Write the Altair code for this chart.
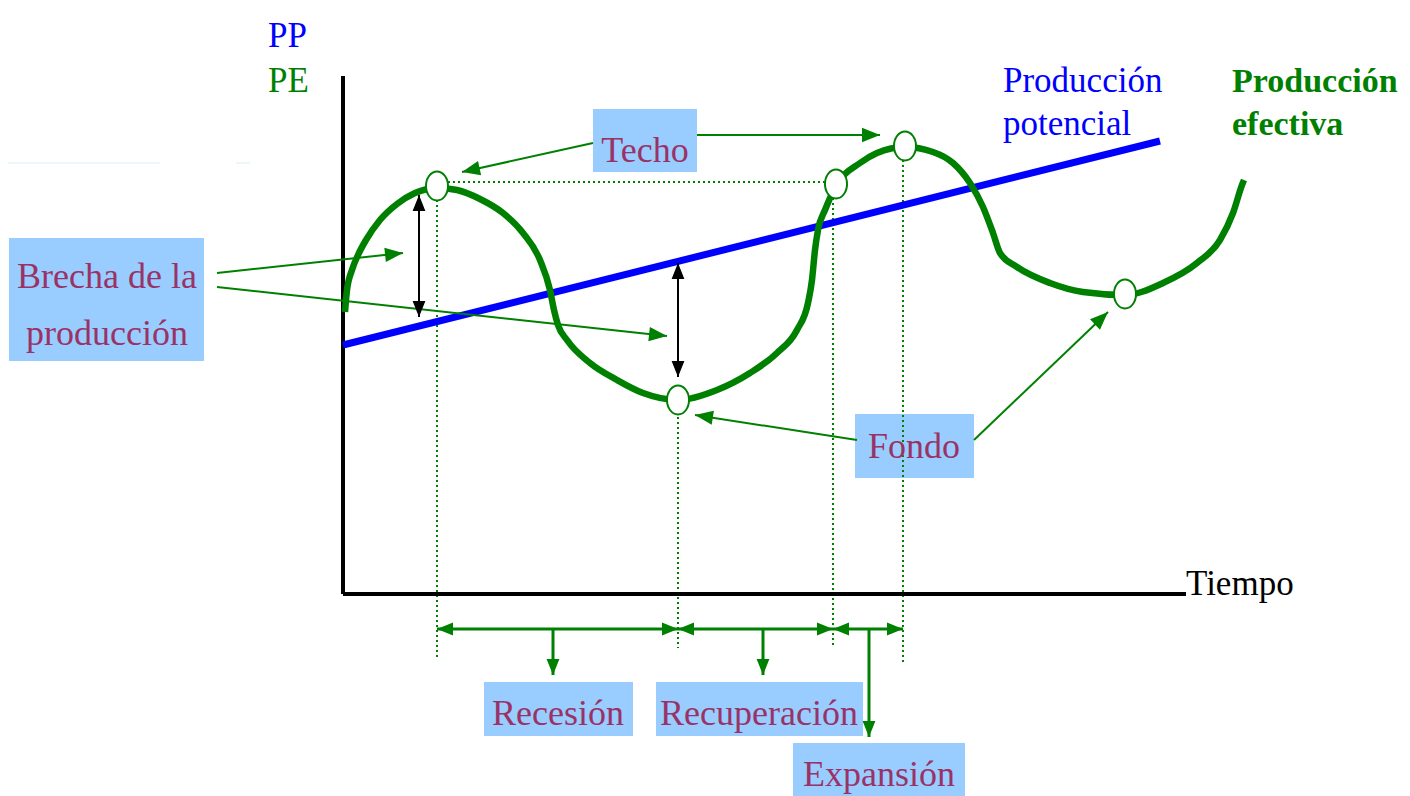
import math
import altair as alt
import pandas as pd

# ---------------- data (diagram coordinates, y grows downward) ----------------
# Producción efectiva (green cycle curve)
pe_x = [345, 347, 352, 358, 366, 380, 397, 415, 437, 457, 480, 503, 523, 540, 550, 554,
        558, 567, 590, 617, 643, 678, 717, 750, 777, 797, 808, 812, 815, 818, 825, 836,
        860, 877, 905, 933, 953, 970, 983, 993, 1000, 1017, 1050, 1083, 1125, 1163, 1197,
        1220, 1233, 1242, 1244]
pe_y = [312, 290, 270, 255, 240, 220, 204, 193, 188, 190, 199, 213, 233, 260, 290, 310,
        325, 340, 363, 380, 393, 400, 390, 373, 353, 330, 303, 280, 250, 230, 210, 186,
        163, 153, 147, 152, 163, 183, 207, 233, 253, 267, 283, 292, 295, 283, 263, 240,
        213, 185, 180]

# Producción potencial (blue trend line)
pp_x = [343, 1160]
pp_y = [345, 141]

# Turning points (circles)
pt_x = [437, 836, 905, 678, 1125]
pt_y = [186, 184, 146, 400, 294]

# Axes
axis_x = [343, 343]
axis_y = [76, 594]
axis_x2 = [343, 1186]
axis_y2 = [594, 594]

# Dotted guide lines
dot_x = [448, 437, 678, 833, 903]
dot_y = [182, 200, 412, 198, 160]
dot_x2 = [826, 437, 678, 833, 903]
dot_y2 = [182, 657, 648, 645, 662]

# Green annotation arrows (head at end)
ga_x = [217, 217, 593, 697, 857, 974]
ga_y = [273, 287, 143, 135, 440, 440]
ga_x2 = [403, 667, 462, 880, 695, 1108]
ga_y2 = [253, 336, 172, 135, 415, 312]

# Black gap arrows (heads at both ends)
ba_x = [419, 678]
ba_y = [195, 263]
ba_y2 = [317, 377]

# Phase arrows along time (heads at both ends)
ph_x = [437, 678, 833]
ph_x2 = [678, 833, 903]
ph_y = 629
# Down arrows to phase labels
dn_x = [553, 763, 869]
dn_y2 = [675, 675, 737]

# Label boxes
box_x = [9, 593, 855, 484, 656, 793]
box_x2 = [204, 697, 974, 633, 863, 965]
box_y = [238, 109, 414, 682, 682, 743]
box_y2 = [361, 172, 478, 736, 736, 800]

# Maroon labels
lab_text = ["Brecha de la", "producción", "Techo", "Fondo", "Recesión", "Recuperación", "Expansión"]
lab_x = [107, 107, 645, 914, 558, 759, 879]
lab_y = [288, 345, 162, 458, 725, 725, 786]

# Other texts
pp_text = ["PP", "Producción", "potencial"]
pp_tx = [268, 1003, 1003]
pp_ty = [47, 92, 135]
pe_text = ["PE"]
pe_tx = [268]
pe_ty = [92]
peb_text = ["Producción", "efectiva"]
peb_tx = [1232, 1232]
peb_ty = [92, 135]
t_text = ["Tiempo"]
t_x = [1186]
t_y = [595]

GREEN = "#008000"
BLUE = "#0000ff"
MAROON = "#993366"
BOXC = "#99ccff"
FONT = "Liberation Serif"

W, H = 1394, 788
X = alt.Scale(domain=[8, 8 + W], nice=False, zero=False)
Y = alt.Scale(domain=[8, 8 + H], nice=False, zero=False, reverse=True)

HEAD = "M0,-1L0.8,1L-0.8,1Z"
ELLIPSE = "M-0.76,0A0.76,1 0 1,0 0.76,0A0.76,1 0 1,0 -0.76,0Z"


def head_rows(segs, L):
    rows = []
    for (x0, y0, x1, y1) in segs:
        dx, dy = x1 - x0, y1 - y0
        n = math.hypot(dx, dy)
        ux, uy = dx / n, dy / n
        ang = math.degrees(math.atan2(dx, -dy)) % 360
        rows.append({"x": x1 - ux * L / 2, "y": y1 - uy * L / 2, "angle": ang})
    return pd.DataFrame(rows)


def rules(xs, ys, x2s, y2s, color, width, dash=None):
    df = pd.DataFrame({"x": xs, "y": ys, "x2": x2s, "y2": y2s})
    kw = dict(color=color, strokeWidth=width)
    if dash:
        kw["strokeDash"] = dash
    return alt.Chart(df).mark_rule(**kw).encode(
        x=alt.X("x:Q", scale=X, axis=None), y=alt.Y("y:Q", scale=Y, axis=None),
        x2="x2:Q", y2="y2:Q")


def heads(df, color, L):
    return alt.Chart(df).mark_point(shape=HEAD, filled=True, fill=color, strokeWidth=0,
                                    opacity=1, size=L * L).encode(
        x=alt.X("x:Q", scale=X, axis=None), y=alt.Y("y:Q", scale=Y, axis=None),
        angle=alt.Angle("angle:Q", scale=None))


def texts(t, xs, ys, color, align="center", bold=False, size=36):
    df = pd.DataFrame({"t": t, "x": xs, "y": ys})
    return alt.Chart(df).mark_text(font=FONT, fontSize=size, color=color, align=align,
                                   baseline="alphabetic",
                                   fontWeight="bold" if bold else "normal").encode(
        x=alt.X("x:Q", scale=X, axis=None), y=alt.Y("y:Q", scale=Y, axis=None), text="t:N")


layers = []

# faint artifact line
layers.append(rules([0, 236], [163, 163], [160, 250], [163, 163], "#d6eef2", 1))

# boxes
layers.append(alt.Chart(pd.DataFrame({"x": box_x, "x2": box_x2, "y": box_y, "y2": box_y2}))
              .mark_rect(color=BOXC).encode(
    x=alt.X("x:Q", scale=X, axis=None), x2="x2:Q",
    y=alt.Y("y:Q", scale=Y, axis=None), y2="y2:Q"))

# dotted guides
layers.append(rules(dot_x, dot_y, dot_x2, dot_y2, GREEN, 2, [2, 3]))

# axes
layers.append(rules([axis_x[0], axis_x2[0]], [axis_y[0], axis_y2[0]],
                    [axis_x[1], axis_x2[1]], [axis_y[1], axis_y2[1]], "black", 4))

# blue potential line
layers.append(alt.Chart(pd.DataFrame({"x": pp_x, "y": pp_y})).mark_line(
    color=BLUE, strokeWidth=7).encode(
    x=alt.X("x:Q", scale=X, axis=None), y=alt.Y("y:Q", scale=Y, axis=None)))

# green effective curve
layers.append(alt.Chart(pd.DataFrame({"x": pe_x, "y": pe_y, "o": list(range(len(pe_x)))}))
              .mark_line(color=GREEN, strokeWidth=6.5, interpolate="monotone",
                         strokeCap="butt").encode(
    x=alt.X("x:Q", scale=X, axis=None), y=alt.Y("y:Q", scale=Y, axis=None), order="o:Q"))

# green annotation arrows
layers.append(rules(ga_x, ga_y, ga_x2, ga_y2, GREEN, 2))
layers.append(heads(head_rows(list(zip(ga_x, ga_y, ga_x2, ga_y2)), 18), GREEN, 18))

# black gap arrows
layers.append(rules(ba_x, ba_y, ba_x, ba_y2, "black", 2))
bsegs = []
for x, y0, y1 in zip(ba_x, ba_y, ba_y2):
    bsegs.append((x, y1, x, y0))
    bsegs.append((x, y0, x, y1))
layers.append(heads(head_rows(bsegs, 16), "black", 16))

# phase arrows
layers.append(rules(ph_x, [ph_y] * 3, ph_x2, [ph_y] * 3, GREEN, 3))
psegs = []
for a, b in zip(ph_x, ph_x2):
    psegs.append((b, ph_y, a, ph_y))
    psegs.append((a, ph_y, b, ph_y))
layers.append(heads(head_rows(psegs, 16), GREEN, 16))
layers.append(rules(dn_x, [ph_y] * 3, dn_x, dn_y2, GREEN, 3))
layers.append(heads(head_rows([(x, ph_y, x, y2) for x, y2 in zip(dn_x, dn_y2)], 16), GREEN, 16))

# turning-point circles
layers.append(alt.Chart(pd.DataFrame({"x": pt_x, "y": pt_y})).mark_point(
    shape=ELLIPSE, size=841, filled=True, fill="white", stroke=GREEN, strokeWidth=2,
    opacity=1).encode(
    x=alt.X("x:Q", scale=X, axis=None), y=alt.Y("y:Q", scale=Y, axis=None)))

# texts
layers.append(texts(lab_text, lab_x, lab_y, MAROON))
layers.append(texts(pp_text, pp_tx, pp_ty, BLUE, align="left", size=35))
layers.append(texts(pe_text, pe_tx, pe_ty, GREEN, align="left", size=35))
layers.append(texts(peb_text, peb_tx, peb_ty, GREEN, align="left", bold=True, size=34))
layers.append(texts(t_text, t_x, t_y, "black", align="left", size=35))

chart = alt.layer(*layers).properties(
    width=W, height=H, padding=0, autosize=alt.AutoSizeParams(type="none"),
    background="white"
).configure_view(stroke=None)

chart.save("out.html", embed_options={"renderer": "svg", "actions": False})
